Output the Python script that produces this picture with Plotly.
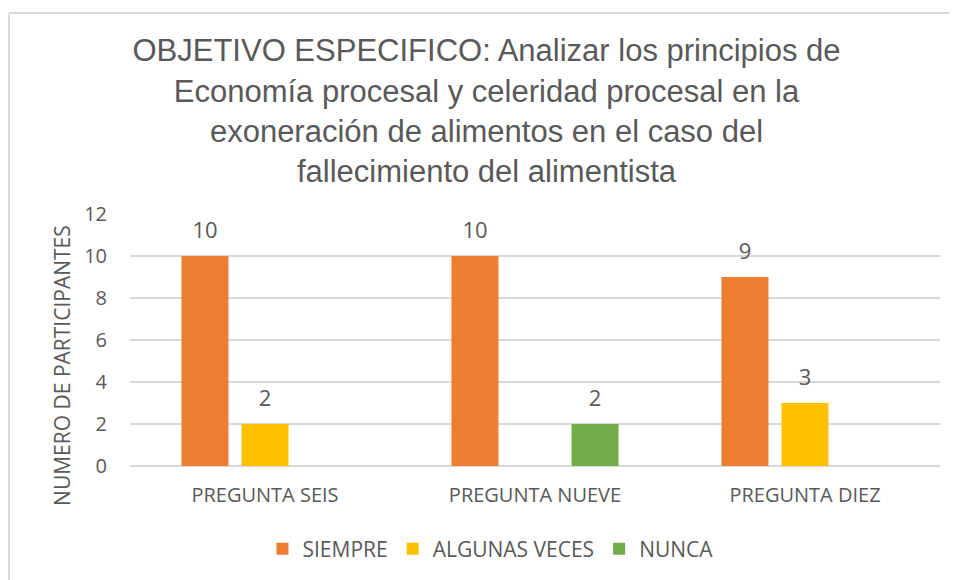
import plotly.graph_objects as go

categories = ["PREGUNTA SEIS", "PREGUNTA NUEVE", "PREGUNTA DIEZ"]
series_names = ["SIEMPRE", "ALGUNAS VECES", "NUNCA"]
siempre = [10, 10, 9]
algunas_veces = [2, 0, 3]
nunca = [0, 2, 0]
y_ticks = [0, 2, 4, 6, 8, 10, 12]

colors = ["#ED7D31", "#FFC000", "#70AD47"]
title_text = ("OBJETIVO ESPECIFICO: Analizar los principios de<br>"
              "Economía procesal y celeridad procesal en la<br>"
              "exoneración de alimentos en el caso del<br>"
              "fallecimiento del alimentista")
y_title = "NUMERO DE PARTICIPANTES"

TXT = "#595959"
GRID = "#D9D9D9"
FONT = "Open Sans"
LABEL_PAD = 0.42  # invisible spacer (axis units) lifting the value labels

fig = go.Figure()
for i, (name, vals, col) in enumerate(zip(series_names, [siempre, algunas_veces, nunca], colors)):
    fig.add_trace(go.Bar(
        name=name, x=categories, y=vals, offsetgroup=str(i),
        marker=dict(color=col, line=dict(width=0)),
        hoverinfo="x+y+name",
    ))
    fig.add_trace(go.Bar(
        name=name, x=categories, y=[LABEL_PAD] * len(vals), base=vals,
        offsetgroup=str(i), showlegend=False, hoverinfo="skip",
        marker=dict(color="rgba(0,0,0,0)", line=dict(width=0)),
        text=[str(v) if v != 0 else "" for v in vals],
        textposition="outside",
        textfont=dict(family=FONT, size=22, color=TXT),
        cliponaxis=False,
    ))

fig.update_layout(
    width=957, height=580,
    margin=dict(l=122, r=25, t=206, b=122),
    paper_bgcolor="white", plot_bgcolor="white",
    barmode="group", bargap=0.333, bargroupgap=0.217,
    title=dict(text=title_text, x=0.5, xanchor="center", y=0.908, yanchor="top",
               font=dict(family="Liberation Sans", size=31, color=TXT)),
    legend=dict(orientation="h", x=0.445, xanchor="center", y=-0.33, yanchor="middle",
                font=dict(family=FONT, size=21, color=TXT), traceorder="normal",
                itemwidth=30),
    showlegend=True,
    xaxis=dict(showgrid=False, showline=False, ticks="", ticklabelstandoff=15,
               tickfont=dict(family=FONT, size=20, color=TXT)),
    yaxis=dict(range=[0, 12], tickvals=y_ticks, showgrid=True, gridcolor=GRID, gridwidth=1.5,
               zeroline=True, zerolinecolor=GRID, zerolinewidth=1.5, showline=False,
               ticks="", ticklabelstandoff=22,
               tickfont=dict(family=FONT, size=20, color=TXT)),
    annotations=[
        dict(text=y_title, xref="paper", yref="paper", x=-0.084, y=0.401,
             xanchor="center", yanchor="middle", textangle=-90, showarrow=False,
             font=dict(family=FONT, size=21, color=TXT)),
    ],
    shapes=[
        dict(type="line", xref="paper", yref="paper", x0=-0.1494, x1=1.04, y0=1.7976, y1=1.7976,
             line=dict(color=GRID, width=2)),
        dict(type="line", xref="paper", yref="paper", x0=-0.1494, x1=-0.1494, y0=1.7976, y1=-0.46,
             line=dict(color=GRID, width=2)),
    ],
)

fig.write_html("out.html")
